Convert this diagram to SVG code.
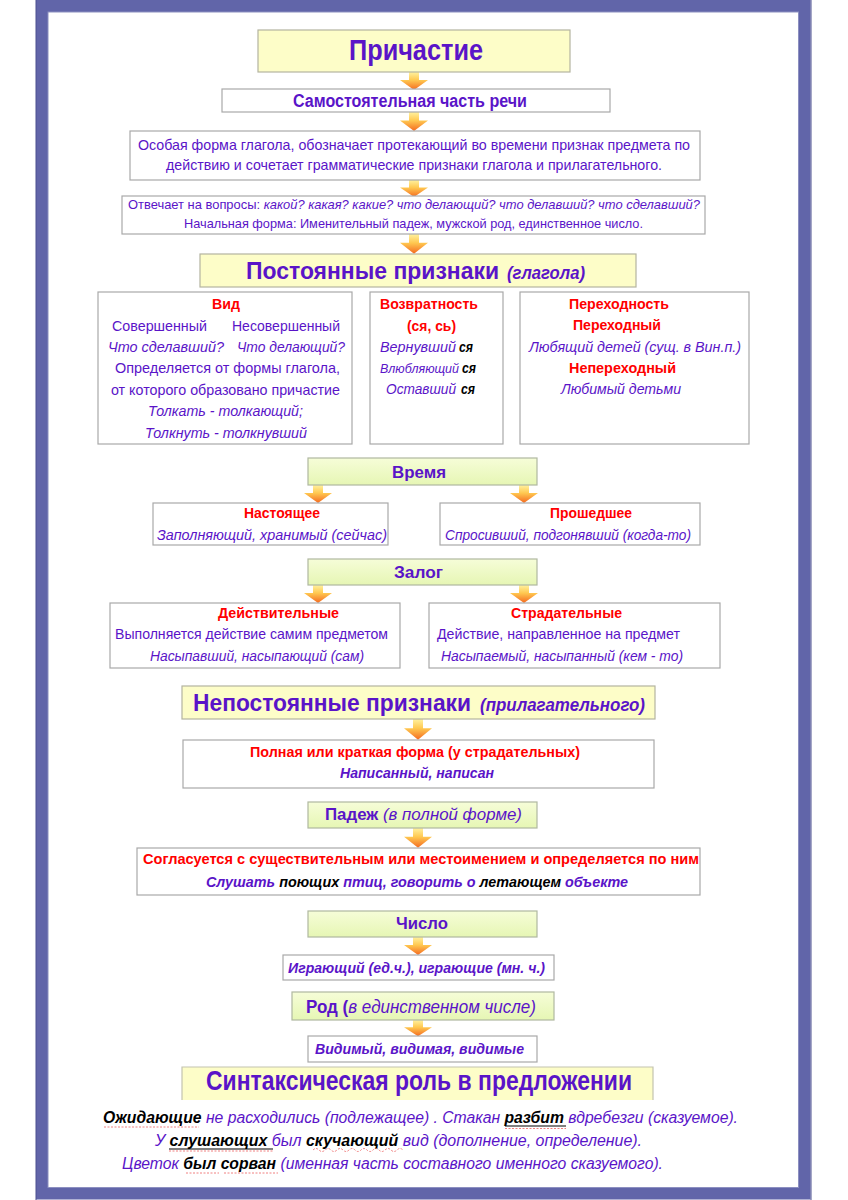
<svg xmlns="http://www.w3.org/2000/svg" width="848" height="1200" viewBox="0 0 848 1200">
<defs>
<linearGradient id="ag" x1="0" y1="0" x2="0" y2="1">
<stop offset="0" stop-color="#fff2a0"/>
<stop offset="0.45" stop-color="#ffc850"/>
<stop offset="1" stop-color="#f46a20"/>
</linearGradient>
<linearGradient id="gg" x1="0" y1="0" x2="0" y2="1">
<stop offset="0" stop-color="#f6fdd8"/>
<stop offset="1" stop-color="#e6f6b4"/>
</linearGradient>
<path id="arr" d="M-5,0 H5 V8 H14 L0,18 L-14,8 H-5 Z" fill="url(#ag)"/>
</defs>
<style>
text{font-family:"Liberation Sans",Arial,sans-serif}
.p{fill:#5a14c8}
.k{fill:#000}
.r{fill:#ff0000;font-weight:bold}
.b{font-weight:bold}
.i{font-style:italic}
.box{fill:#fff;stroke:#a9a9a9;stroke-width:1.2}
.yb{fill:#fdfdc8;stroke:#b4b4a0;stroke-width:1.2}
.gb{fill:url(#gg);stroke:#b0b8a0;stroke-width:1.2}
.ul{stroke:#000;stroke-width:1.2}
.sq{stroke:#f08080;stroke-width:1;fill:none;stroke-dasharray:2 1.5}
</style>
<rect x="0" y="0" width="848" height="1200" fill="#fff"/>
<rect x="42" y="6" width="762.5" height="1187.5" fill="#fff" stroke="#6165a9" stroke-width="12"/>
<rect x="36" y="-1" width="775" height="1202" fill="none" stroke="#4c5090" stroke-width="1"/>
<rect x="48" y="12" width="750.5" height="1175.5" fill="none" stroke="#8c8fc0" stroke-width="1"/>

<g id="connectors">
<use href="#arr" transform="translate(414,72) scale(1,1)"/>
<use href="#arr" transform="translate(414,112) scale(1,1.06)"/>
<use href="#arr" transform="translate(414,180) scale(1,0.95)"/>
<use href="#arr" transform="translate(414,234) scale(1,1.1)"/>
<use href="#arr" transform="translate(318,485)"/>
<use href="#arr" transform="translate(524,485)"/>
<use href="#arr" transform="translate(318,585)"/>
<use href="#arr" transform="translate(524,585)"/>
<use href="#arr" transform="translate(418,719) scale(1,1.15)"/>
<use href="#arr" transform="translate(418,828) scale(1,1.1)"/>
<use href="#arr" transform="translate(418,937)"/>
<use href="#arr" transform="translate(418,1020) scale(1,0.9)"/>
</g>

<g id="n-prichastie">
<rect class="yb" x="258" y="30" width="312" height="42"/>
<text class="p b" x="416" y="60" font-size="30" text-anchor="middle" textLength="134" lengthAdjust="spacingAndGlyphs">Причастие</text>
</g>
<g id="n-samost">
<rect class="box" x="222" y="89" width="388" height="23"/>
<text class="p b" x="410" y="107" font-size="18" text-anchor="middle" textLength="234" lengthAdjust="spacingAndGlyphs">Самостоятельная часть речи</text>
</g>
<g id="n-osobaya">
<rect class="box" x="130" y="131" width="570" height="49"/>
<text class="p" x="414" y="150" font-size="15" text-anchor="middle" textLength="552" lengthAdjust="spacingAndGlyphs">Особая форма глагола, обозначает протекающий во времени признак предмета по</text>
<text class="p" x="414" y="170" font-size="15" text-anchor="middle" textLength="496" lengthAdjust="spacingAndGlyphs">действию и сочетает грамматические признаки глагола и прилагательного.</text>
</g>
<g id="n-voprosy">
<rect class="box" x="122" y="196" width="583" height="38"/>
<text class="p" x="414" y="209" font-size="13" text-anchor="middle" textLength="572" lengthAdjust="spacingAndGlyphs">Отвечает на вопросы: <tspan class="i">какой? какая? какие? что  делающий? что делавший? что сделавший?</tspan></text>
<text class="p" x="413.5" y="228" font-size="13" text-anchor="middle" textLength="459" lengthAdjust="spacingAndGlyphs">Начальная форма: Именительный падеж, мужской род, единственное число.</text>
</g>
<g id="n-postoyannye">
<rect class="yb" x="200" y="254" width="436" height="33"/>
<text class="p b" x="246" y="279" font-size="23.5" textLength="253" lengthAdjust="spacingAndGlyphs">Постоянные признаки</text>
<text class="p b i" x="507" y="279" font-size="18" textLength="78" lengthAdjust="spacingAndGlyphs">(глагола)</text>
</g>
<g id="n-vid">
<rect class="box" x="98" y="292" width="254" height="152"/>
<text class="r" x="226" y="309" font-size="15" text-anchor="middle" textLength="28" lengthAdjust="spacingAndGlyphs">Вид</text>
<text class="p" x="159.5" y="331" font-size="15" text-anchor="middle" textLength="95" lengthAdjust="spacingAndGlyphs">Совершенный</text>
<text class="p" x="286" y="331" font-size="15" text-anchor="middle" textLength="108" lengthAdjust="spacingAndGlyphs">Несовершенный</text>
<text class="p i" x="166" y="352" font-size="15" text-anchor="middle" textLength="116" lengthAdjust="spacingAndGlyphs">Что сделавший?</text>
<text class="p i" x="291" y="352" font-size="15" text-anchor="middle" textLength="108" lengthAdjust="spacingAndGlyphs">Что делающий?</text>
<text class="p" x="227.5" y="373" font-size="15" text-anchor="middle" textLength="225" lengthAdjust="spacingAndGlyphs">Определяется от формы глагола,</text>
<text class="p" x="225.5" y="395" font-size="15" text-anchor="middle" textLength="229" lengthAdjust="spacingAndGlyphs">от которого образовано причастие</text>
<text class="p i" x="225.5" y="416" font-size="15" text-anchor="middle" textLength="155" lengthAdjust="spacingAndGlyphs">Толкать - толкающий;</text>
<text class="p i" x="226" y="438" font-size="15" text-anchor="middle" textLength="162" lengthAdjust="spacingAndGlyphs">Толкнуть - толкнувший</text>
</g>
<g id="n-vozvr">
<rect class="box" x="370" y="292" width="133" height="152"/>
<text class="r" x="429" y="309" font-size="15" text-anchor="middle" textLength="98" lengthAdjust="spacingAndGlyphs">Возвратность</text>
<text class="r" x="431.5" y="331" font-size="15" text-anchor="middle" textLength="49" lengthAdjust="spacingAndGlyphs">(ся, сь)</text>
<text class="p i" x="380" y="352" font-size="15" textLength="76" lengthAdjust="spacingAndGlyphs">Вернувший</text>
<text class="k b i" x="459" y="352" font-size="15" textLength="14" lengthAdjust="spacingAndGlyphs">ся</text>
<text class="p i" x="380" y="373" font-size="13" textLength="79" lengthAdjust="spacingAndGlyphs">Влюбляющий</text>
<text class="k b i" x="462" y="373" font-size="15" textLength="14" lengthAdjust="spacingAndGlyphs">ся</text>
<text class="p i" x="386" y="394" font-size="15" textLength="70" lengthAdjust="spacingAndGlyphs">Оставший</text>
<text class="k b i" x="461" y="394" font-size="15" textLength="14" lengthAdjust="spacingAndGlyphs">ся</text>
</g>
<g id="n-perekh">
<rect class="box" x="520" y="292" width="229" height="152"/>
<text class="r" x="619" y="309" font-size="15" text-anchor="middle" textLength="100" lengthAdjust="spacingAndGlyphs">Переходность</text>
<text class="r" x="617" y="330" font-size="15" text-anchor="middle" textLength="88" lengthAdjust="spacingAndGlyphs">Переходный</text>
<text class="p i" x="635" y="352" font-size="15" text-anchor="middle" textLength="212" lengthAdjust="spacingAndGlyphs">Любящий детей (сущ. в Вин.п.)</text>
<text class="r" x="622.5" y="373" font-size="15" text-anchor="middle" textLength="107" lengthAdjust="spacingAndGlyphs">Непереходный</text>
<text class="p i" x="621" y="394" font-size="15" text-anchor="middle" textLength="120" lengthAdjust="spacingAndGlyphs">Любимый детьми</text>
</g>
<g id="n-vremya">
<rect class="gb" x="308" y="458" width="229" height="27"/>
<text class="p b" x="419" y="478" font-size="17" text-anchor="middle" textLength="54" lengthAdjust="spacingAndGlyphs">Время</text>
</g>
<g id="n-nastoyashchee">
<rect class="box" x="153" y="503" width="235" height="42"/>
<text class="r" x="282" y="518" font-size="15" text-anchor="middle" textLength="76" lengthAdjust="spacingAndGlyphs">Настоящее</text>
<text class="p i" x="272" y="540" font-size="15" text-anchor="middle" textLength="230" lengthAdjust="spacingAndGlyphs">Заполняющий, хранимый (сейчас)</text>
</g>
<g id="n-proshedshee">
<rect class="box" x="440" y="503" width="260" height="42"/>
<text class="r" x="591" y="518" font-size="15" text-anchor="middle" textLength="82" lengthAdjust="spacingAndGlyphs">Прошедшее</text>
<text class="p i" x="568" y="540" font-size="15" text-anchor="middle" textLength="246" lengthAdjust="spacingAndGlyphs">Спросивший, подгонявший (когда-то)</text>
</g>
<g id="n-zalog">
<rect class="gb" x="308" y="559" width="229" height="26"/>
<text class="p b" x="418.5" y="578" font-size="17" text-anchor="middle" textLength="49" lengthAdjust="spacingAndGlyphs">Залог</text>
</g>
<g id="n-deystv">
<rect class="box" x="110" y="603" width="290" height="65"/>
<text class="r" x="278.5" y="618" font-size="15" text-anchor="middle" textLength="121" lengthAdjust="spacingAndGlyphs">Действительные</text>
<text class="p" x="251.5" y="639" font-size="15" text-anchor="middle" textLength="273" lengthAdjust="spacingAndGlyphs">Выполняется действие самим предметом</text>
<text class="p i" x="257" y="661" font-size="15" text-anchor="middle" textLength="214" lengthAdjust="spacingAndGlyphs">Насыпавший, насыпающий (сам)</text>
</g>
<g id="n-strad">
<rect class="box" x="429" y="603" width="291" height="65"/>
<text class="r" x="566.5" y="618" font-size="15" text-anchor="middle" textLength="111" lengthAdjust="spacingAndGlyphs">Страдательные</text>
<text class="p" x="558.5" y="639" font-size="15" text-anchor="middle" textLength="243" lengthAdjust="spacingAndGlyphs">Действие, направленное на предмет</text>
<text class="p i" x="562" y="661" font-size="15" text-anchor="middle" textLength="242" lengthAdjust="spacingAndGlyphs">Насыпаемый, насыпанный (кем - то)</text>
</g>
<g id="n-nepostoyannye">
<rect class="yb" x="182" y="686" width="473" height="33"/>
<text class="p b" x="193" y="711" font-size="23.5" textLength="278" lengthAdjust="spacingAndGlyphs">Непостоянные признаки</text>
<text class="p b i" x="480" y="711" font-size="18" textLength="165" lengthAdjust="spacingAndGlyphs">(прилагательного)</text>
</g>
<g id="n-polnaya">
<rect class="box" x="183" y="740" width="471" height="48"/>
<text class="r" x="415" y="757" font-size="15" text-anchor="middle" textLength="330" lengthAdjust="spacingAndGlyphs">Полная или краткая форма  (у страдательных)</text>
<text class="p b i" x="417" y="778" font-size="15" text-anchor="middle" textLength="154" lengthAdjust="spacingAndGlyphs">Написанный, написан</text>
</g>
<g id="n-padezh">
<rect class="gb" x="308" y="802" width="229" height="26"/>
<text class="p" x="423.5" y="820" font-size="17" text-anchor="middle" textLength="197" lengthAdjust="spacingAndGlyphs"><tspan class="b">Падеж</tspan><tspan class="i"> (в полной форме)</tspan></text>
</g>
<g id="n-soglasuetsya">
<rect class="box" x="137" y="848" width="563" height="47"/>
<text class="r" x="421" y="864" font-size="15" text-anchor="middle" textLength="556" lengthAdjust="spacingAndGlyphs">Согласуется с существительным или местоимением и определяется по ним</text>
<text class="p b i" x="417" y="887" font-size="15" text-anchor="middle" textLength="422" lengthAdjust="spacingAndGlyphs">Слушать <tspan class="k">поющих</tspan> птиц, говорить о <tspan class="k">летающем</tspan> объекте</text>
</g>
<g id="n-chislo">
<rect class="gb" x="308" y="911" width="229" height="26"/>
<text class="p b" x="422" y="929" font-size="17" text-anchor="middle" textLength="52" lengthAdjust="spacingAndGlyphs">Число</text>
</g>
<g id="n-igrayushchiy">
<rect class="box" x="283" y="955" width="271" height="25"/>
<text class="p b i" x="416.5" y="973" font-size="15" text-anchor="middle" textLength="257" lengthAdjust="spacingAndGlyphs">Играющий (ед.ч.), играющие (мн. ч.)</text>
</g>
<g id="n-rod">
<rect class="gb" x="292" y="992" width="262" height="28"/>
<text class="p" x="421" y="1013" font-size="18" text-anchor="middle" textLength="230" lengthAdjust="spacingAndGlyphs"><tspan class="b">Род (</tspan><tspan class="i">в единственном числе)</tspan></text>
</g>
<g id="n-vidimyy">
<rect class="box" x="308" y="1036" width="229" height="26"/>
<text class="p b i" x="419.5" y="1054" font-size="15" text-anchor="middle" textLength="209" lengthAdjust="spacingAndGlyphs">Видимый, видимая, видимые</text>
</g>
<g id="n-sintaks">
<rect x="182" y="1067" width="471" height="33" fill="#fdfdc8"/>
<path d="M182,1100 V1067 H653 V1100" fill="none" stroke="#c4c4b0" stroke-width="1.2"/>
<text class="p b" x="419" y="1090" font-size="27" text-anchor="middle" textLength="426" lengthAdjust="spacingAndGlyphs">Синтаксическая роль в предложении</text>
</g>
<g id="examples">
<text class="p i" x="103" y="1123" font-size="16" textLength="635" lengthAdjust="spacingAndGlyphs"><tspan class="k b">Ожидающие</tspan> не расходились (подлежащее) . Стакан  <tspan class="k b">разбит</tspan> вдребезги (сказуемое).</text>
<text class="p i" x="155" y="1146" font-size="16" textLength="487" lengthAdjust="spacingAndGlyphs">У <tspan class="k b">слушающих</tspan>   был <tspan class="k b">скучающий</tspan> вид (дополнение, определение).</text>
<text class="p i" x="122" y="1169" font-size="16" textLength="541" lengthAdjust="spacingAndGlyphs">Цветок <tspan class="k b">был</tspan> <tspan class="k b">сорван</tspan> (именная часть составного именного сказуемого).</text>
<line class="ul" x1="505" y1="1126" x2="566" y2="1126"/>
<line class="ul" x1="169" y1="1149" x2="273" y2="1149"/>
<path class="sq" d="M104,1127 H199"/>
<path class="sq" d="M505,1128.5 H566"/>
<path class="sq" d="M169,1151 H273"/>
<path class="sq" d="M313,1150 Q316,1147 319,1150 T325,1150 T331,1150 T337,1150 T343,1150 T349,1150 T355,1150 T361,1150 T367,1150 T373,1150 T379,1150 T385,1150 T391,1150 T397,1150 T403,1150"/>
<path class="sq" d="M186,1173 H219"/>
<path class="sq" d="M224,1173 H278"/>
</g>
</svg>
